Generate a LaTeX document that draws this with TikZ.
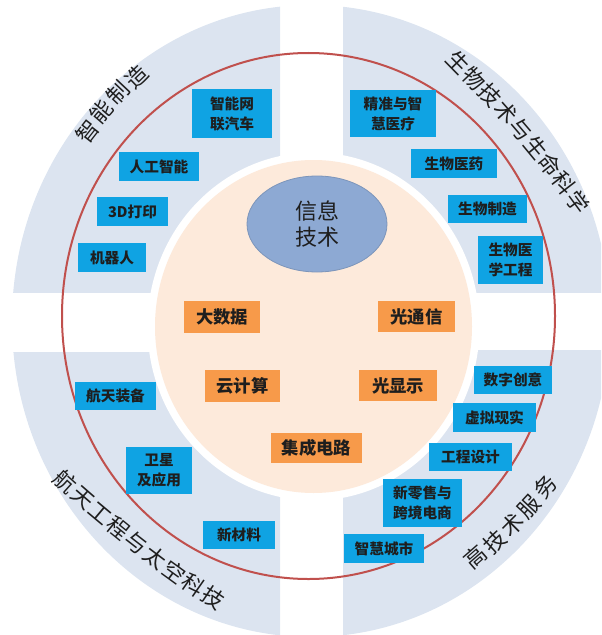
\documentclass[tikz,border=0pt]{standalone}
\usepackage{fontspec}
\setmainfont{Noto Sans CJK SC}
\usetikzlibrary{shapes.geometric}
\definecolor{quadc}{HTML}{DCE4F0}
\definecolor{peach}{HTML}{FDEADB}
\definecolor{boxblue}{HTML}{0FA3E3}
\definecolor{boxorange}{HTML}{F79A4A}
\definecolor{ellc}{HTML}{8DA9D3}
\definecolor{ringred}{HTML}{C0504D}
\definecolor{txt}{HTML}{1E1E1E}
\tikzset{
  bluebox/.style 2 args={fill=boxblue, inner sep=0pt, align=center, text=txt,
    font=\fontsize{11}{15}\selectfont\bfseries,
    minimum width=#1*0.75pt, minimum height=#2*0.75pt},
  orangebox/.style 2 args={fill=boxorange, inner sep=0pt, align=center, text=txt,
    font=\fontsize{13}{16}\selectfont\bfseries,
    minimum width=#1*0.75pt, minimum height=#2*0.75pt},
  quadtitle/.style={inner sep=0pt, text=txt, font=\fontsize{16.5}{18}\selectfont}
}
\begin{document}
\begin{tikzpicture}[x=0.75pt,y=-0.75pt]
\useasboundingbox (0,0) rectangle (601,635);
% quadrants
\begin{scope}
\clip (0,0) rectangle (280,292);
\fill[quadc] (311,321) ellipse [x radius=299, y radius=316];
\end{scope}
\begin{scope}
\clip (343,0) rectangle (601,292);
\fill[quadc] (311,321) ellipse [x radius=299, y radius=316];
\end{scope}
\begin{scope}
\clip (0,352) rectangle (280,635);
\fill[quadc] (311,321) ellipse [x radius=299, y radius=316];
\end{scope}
\begin{scope}
\clip (343,350) rectangle (601,635);
\fill[quadc] (311,321) ellipse [x radius=299, y radius=316];
\end{scope}
% red ring
\draw[ringred, line width=1.5pt] (308.5,316) ellipse [x radius=246.5, y radius=263];
% central disk
\fill[white] (313.5,326.5) ellipse [x radius=166, y radius=174];
\fill[peach] (313.5,326.5) ellipse [x radius=158.5, y radius=166.5];
% central ellipse
\node[ellipse, fill=ellc, draw=ellc!88!black, line width=0.6pt, inner sep=0pt,
  minimum width=140*0.75pt, minimum height=96*0.75pt, align=center, text=txt,
  font=\fontsize{16.5}{19.5}\selectfont] (it) at (317,224) {信息\\技术};
% orange boxes
\node[orangebox={76}{32}] (o1) at (222,317) {大数据};
\node[orangebox={77}{31}] (o2) at (416.5,316.5) {光通信};
\node[orangebox={75}{32}] (o3) at (242.5,386) {云计算};
\node[orangebox={78}{31}] (o4) at (398,385.5) {光显示};
\node[orangebox={91}{30}] (o5) at (316.5,448) {集成电路};
% blue boxes
\node[bluebox={80}{49}] (b1) at (232,113.5) {智能网\\联汽车};
\node[bluebox={80}{29}] (b2) at (159,166.5) {人工智能};
\node[bluebox={71}{29}] (b3) at (132.5,211.5) {3D打印};
\node[bluebox={68}{29}] (b4) at (112,257.5) {机器人};
\node[bluebox={86}{47}] (b5) at (393,113.5) {精准与智\\慧医疗};
\node[bluebox={86}{29}] (b6) at (454,163.5) {生物医药};
\node[bluebox={79}{28}] (b7) at (487.5,209) {生物制造};
\node[bluebox={65}{48}] (b8) at (510.5,260) {生物医\\学工程};
\node[bluebox={81}{28}] (b9) at (115.5,396) {航天装备};
\node[bluebox={66}{47}] (b10) at (159,470.5) {卫星\\及应用};
\node[bluebox={72}{28}] (b11) at (239,535) {新材料};
\node[bluebox={78}{28}] (b12) at (513,380) {数字创意};
\node[bluebox={83}{29}] (b13) at (494.5,417.5) {虚拟现实};
\node[bluebox={83}{28}] (b14) at (470.5,457) {工程设计};
\node[bluebox={79}{48}] (b15) at (422.5,503) {新零售与\\跨境电商};
\node[bluebox={80}{29}] (b16) at (384,548.5) {智慧城市};
% titles, set character by character along a gently curved line
\foreach \ch [count=\i] in {智,能,制,造} {
  \pgfmathsetmacro\tp{(\i-1)/3}
  \pgfmathsetmacro\px{88+\tp*49+16*\tp*(1-\tp)*(-0.746)}
  \pgfmathsetmacro\py{132-\tp*55+16*\tp*(1-\tp)*(-0.665)}
  \pgfmathsetmacro\rt{52-\tp*8}
  \node[quadtitle, rotate=\rt] (ta\i) at (\px,\py) {\ch};
}
\foreach \ch [count=\i] in {生,物,技,术,与,生,命,科,学} {
  \pgfmathsetmacro\tp{(\i-1)/8}
  \pgfmathsetmacro\px{458+\tp*120+16*\tp*(1-\tp)*0.759}
  \pgfmathsetmacro\py{62+\tp*140+16*\tp*(1-\tp)*(-0.651)}
  \pgfmathsetmacro\rt{-45.5-\tp*8}
  \node[quadtitle, rotate=\rt] (tb\i) at (\px,\py) {\ch};
}
\foreach \ch [count=\i] in {航,天,工,程,与,太,空,科,技} {
  \pgfmathsetmacro\tp{(\i-1)/8}
  \pgfmathsetmacro\px{65+\tp*148+16*\tp*(1-\tp)*(-0.617)}
  \pgfmathsetmacro\py{482+\tp*116+16*\tp*(1-\tp)*0.787}
  \pgfmathsetmacro\rt{-42+\tp*8}
  \node[quadtitle, rotate=\rt] (tc\i) at (\px,\py) {\ch};
}
\foreach \ch [count=\i] in {高,技,术,服,务} {
  \pgfmathsetmacro\tp{(\i-1)/4}
  \pgfmathsetmacro\px{475+\tp*70+16*\tp*(1-\tp)*0.707}
  \pgfmathsetmacro\py{557-\tp*70+16*\tp*(1-\tp)*0.707}
  \pgfmathsetmacro\rt{41+\tp*8}
  \node[quadtitle, rotate=\rt] (td\i) at (\px,\py) {\ch};
}
\end{tikzpicture}
\end{document}
